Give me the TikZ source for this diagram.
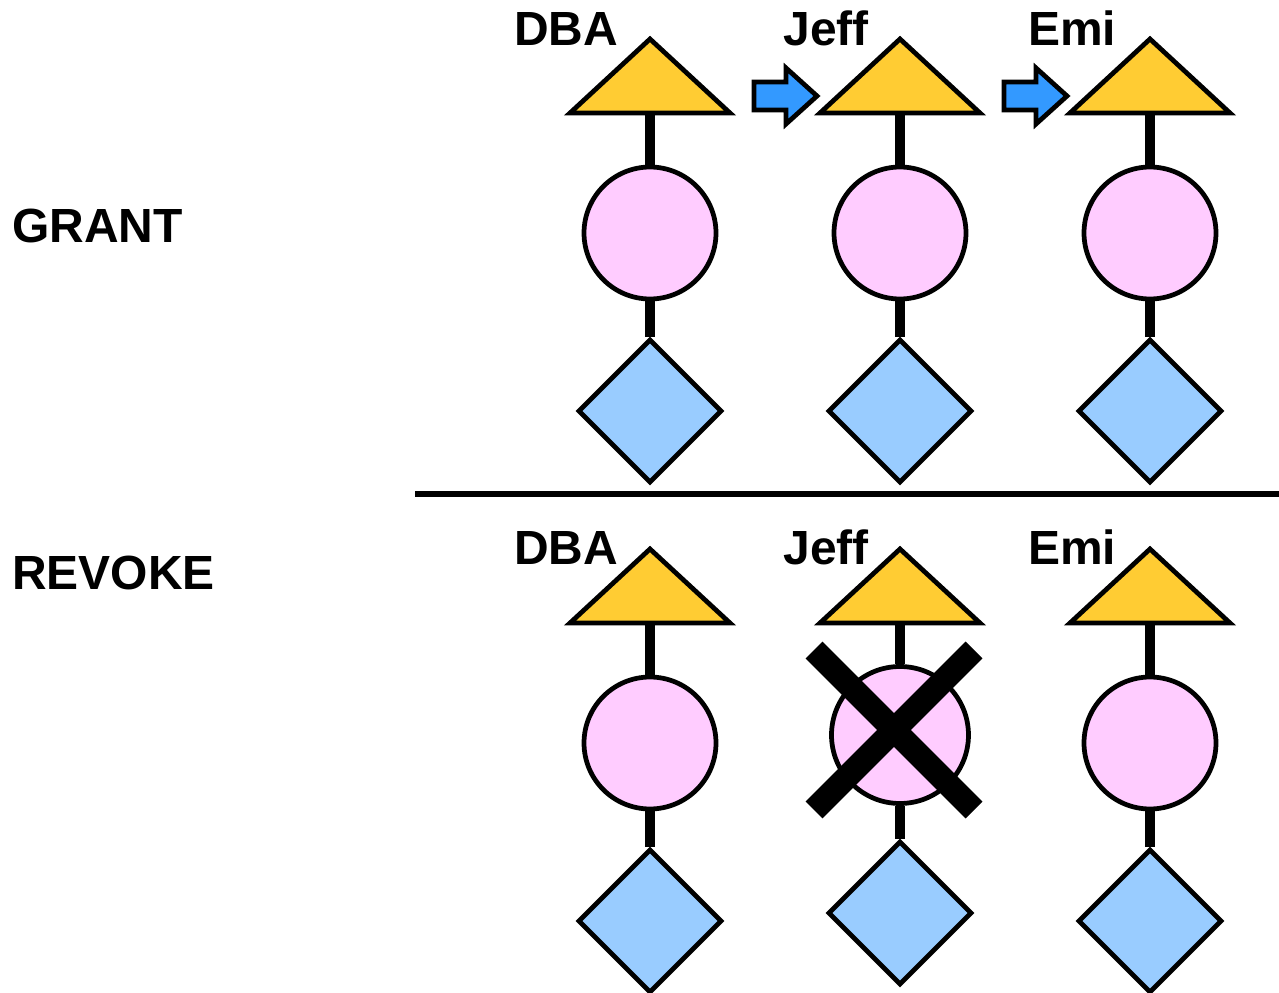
\documentclass[tikz,border=0pt]{standalone}
\usepackage{fontspec}
\setmainfont{Liberation Sans}
\usetikzlibrary{shapes.geometric}
\definecolor{triyellow}{HTML}{FFCC33}
\definecolor{rolepink}{HTML}{FFCCFF}
\definecolor{privblue}{HTML}{99CCFF}
\definecolor{arrowblue}{HTML}{3399FF}
\begin{document}
\begin{tikzpicture}[x=0.02cm, y=-0.02cm,
    tri/.style={draw=black, line width=2.7pt, fill=triyellow},
    role/.style={circle, draw=black, line width=2.7pt, fill=rolepink, inner sep=0pt, minimum size=2.64cm},
    priv/.style={diamond, draw=black, line width=2.7pt, fill=privblue, inner sep=0pt, minimum size=2.88cm},
    stem/.style={line width=6pt},
    push/.style={draw=black, line width=2.7pt, fill=arrowblue},
    cross/.style={line width=0.48cm},
    lbl/.style={anchor=base west, inner sep=0pt, font=\fontsize{27.3}{32}\selectfont\bfseries}
]
\useasboundingbox (0,0) rectangle (1279,993);

\node[lbl] (grant) at (12,243) {GRANT};
\node[lbl] (revoke) at (12,589) {REVOKE};

% grant row
\foreach \i/\x/\who/\lx in {1/650/DBA/514, 2/900/Jeff/783, 3/1150/Emi/1028} {
  \draw[tri] (\x-80,113) -- (\x,39) -- (\x+80,113) -- cycle;
  \coordinate (gt\i) at (\x,113);
  \node[role] (gc\i) at (\x,233) {};
  \node[priv] (gd\i) at (\x,411) {};
  \draw[stem] (gt\i) -- (gc\i.north);
  \draw[stem] (gc\i.south) -- (gd\i.north);
  \node[lbl] (gn\i) at (\lx,46) {\who};
}

\foreach \ax in {0,250}
  \draw[push, shift={(\ax,0)}] (754,82) -- (786,82) -- (786,68) -- (817,96)
    -- (786,124) -- (786,110) -- (754,110) -- cycle;

\draw[line width=3.3pt] (415,494) -- (1279,494);

% revoke row
\foreach \i/\x/\who/\lx/\cy/\cs/\dy in {1/650/DBA/514/743/2.64cm/921, 2/900/Jeff/783/735/2.74cm/913, 3/1150/Emi/1028/743/2.64cm/921} {
  \draw[tri] (\x-80,623) -- (\x,549) -- (\x+80,623) -- cycle;
  \coordinate (rt\i) at (\x,623);
  \node[role, minimum size=\cs] (rc\i) at (\x,\cy) {};
  \node[priv] (rd\i) at (\x,\dy) {};
  \draw[stem] (rt\i) -- (rc\i.north);
  \draw[stem] (rc\i.south) -- (rd\i.north);
  \node[lbl] (rn\i) at (\lx,564) {\who};
}

\draw[cross] (rc2.center) ++(-86,-85) -- ++(160,160);
\draw[cross] (rc2.center) ++(74,-85) -- ++(-160,160);

\end{tikzpicture}
\end{document}
